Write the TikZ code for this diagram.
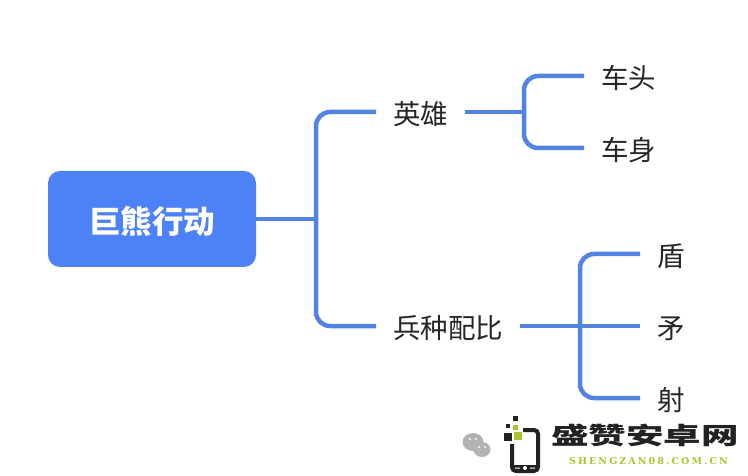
\documentclass[tikz,border=0pt]{standalone}
\usepackage{fontspec}
\usepackage{xcolor}
\newfontfamily\cjk{Noto Sans CJK SC}
\newfontfamily\logofont[LetterSpace=22]{DejaVu Serif}
\definecolor{rootblue}{HTML}{4D82F7}
\definecolor{lineblue}{HTML}{5282E2}
\definecolor{logogreen}{HTML}{A9C62C}
\definecolor{logodark}{HTML}{222222}
\tikzset{
	rootnode/.style = {fill=rootblue,text=white,rounded corners=12pt,inner sep=0pt,
		minimum width=208pt,minimum height=96pt,text height=32pt,text depth=3pt,
		font=\cjk\bfseries\fontsize{31.5}{34}\selectfont},
	topic/.style = {anchor=west,inner sep=0pt,text=black!85,text height=28pt,text depth=3pt,
		font=\cjk\fontsize{27.5}{30}\selectfont},
	branch/.style = {draw=lineblue,line width=4.5pt,rounded corners=14pt},
	logopix/.style = {fill=logodark},
	logopixg/.style = {fill=logogreen},
}
\begin{document}
\begin{tikzpicture}[x=1pt,y=-1pt]
\useasboundingbox (0,0) rectangle (748,476);

\node[rootnode](root) at (152,219){巨熊行动};
\node[topic](hero) at (393,112){英雄};
\node[topic](army) at (393,326){兵种配比};
\node[topic](head) at (601,76){车头};
\node[topic](body) at (601,148){车身};
\node[topic](shield) at (657,254){盾};
\node[topic](spear) at (657,326){矛};
\node[topic](archer) at (657,398){射};

\coordinate (trunk) at (316,219);
\coordinate (heroFork) at (524,112);
\coordinate (armyFork) at (580,326);

\draw[branch](root.east)-- (trunk);
\draw[branch]([xshift=-17pt]hero.west) -| (trunk) |- ([xshift=-17pt]army.west);
\draw[branch]([xshift=17pt]hero.east)-- (heroFork);
\draw[branch]([xshift=-17pt]head.west) -| (heroFork) |- ([xshift=-17pt]body.west);
\draw[branch]([xshift=17pt]army.east)-- ([xshift=-17pt]spear.west);
\draw[branch]([xshift=-17pt]shield.west) -| (armyFork) |- ([xshift=-17pt]archer.west);

% watermark
\fill[black!30] (473,442) ellipse (10.5 and 9);
\fill[black!30] (482,449.5) ellipse (8.5 and 7.5);
\fill[white] (470,439) circle (1.2) (476,439) circle (1.2) (479,447) circle (1.1) (485,447) circle (1.1);
\fill[logopix] (513,416) rectangle (518,421);
\fill[logopix] (506,424) rectangle (510,428);
\fill[logopixg] (513,425) rectangle (518,430);
\fill[logopix] (504,433) rectangle (512,441);
\fill[logopixg] (514,432) rectangle (522,440);
\draw[logodark,line width=4pt,rounded corners=4pt] (512,444) -- (512,471) -- (538,471) -- (538,430) -- (523,430);
\fill[logodark] (512,465) rectangle (538,471);
\fill[white] (525,468) circle (2) (515,467.5) rectangle (520,468.5) (530,467.5) rectangle (535,468.5);
\node[inner sep=0pt,text=logodark,xscale=1.5,yscale=0.95,font=\cjk\bfseries\fontsize{25}{27}\selectfont](logotext) at (645,435.5){盛赞安卓网};
\node[inner sep=0pt,text=logogreen,font=\logofont\bfseries\fontsize{9.5}{12}\selectfont](logourl) at (648.5,461){SHENGZAN08.COM.CN};
\end{tikzpicture}
\end{document}
